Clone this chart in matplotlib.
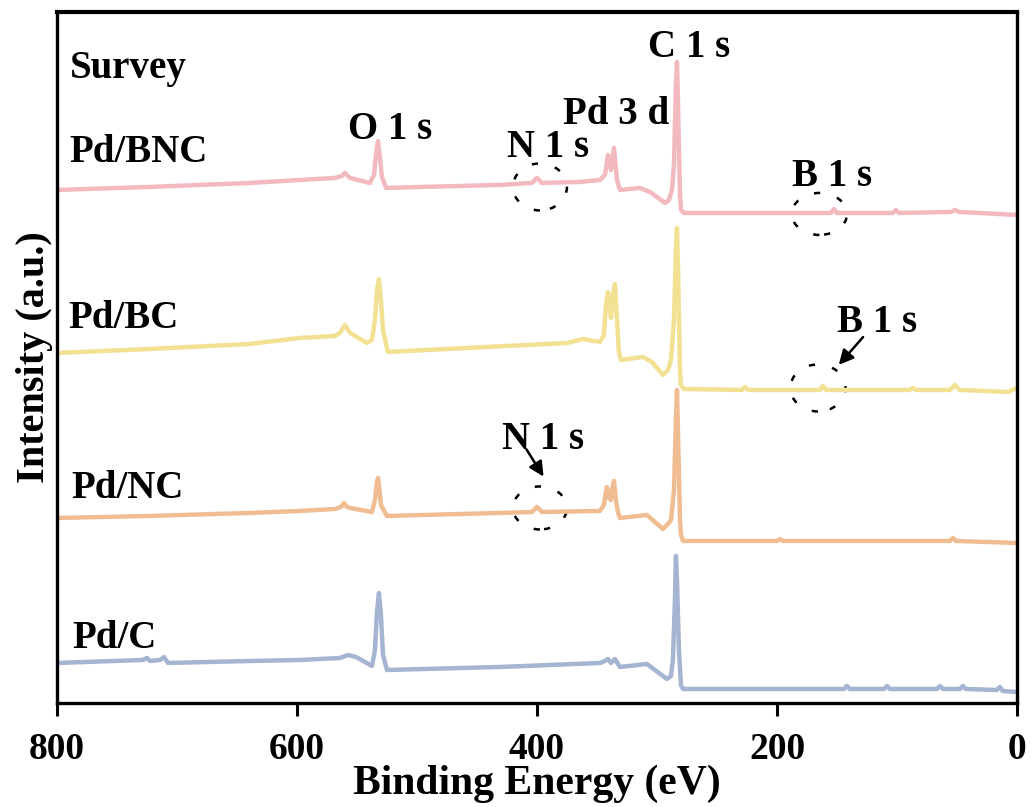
import matplotlib
matplotlib.use("Agg")
import matplotlib.pyplot as plt
from matplotlib.patches import Ellipse

plt.rcParams['font.family'] = ['Liberation Serif', 'DejaVu Serif']
plt.rcParams['font.weight'] = 'bold'

# ---------------- data (binding energy in eV, intensity in a.u.) ----------------
be_bnc = [800.0, 722.5, 639.2, 597.5, 568.3, 562.5, 560.0, 555.8, 539.2, 535.8, 534.2, 532.5, 530.8,
          529.2, 525.8, 497.5, 430.8, 404.2, 400.0, 395.8, 364.2, 347.5, 343.3, 340.8, 338.3, 335.8,
          333.3, 330.8, 314.2, 305.8, 293.3, 290.0, 287.5, 285.8, 284.2, 283.3, 282.5, 280.8, 280.0,
          277.5, 214.2, 155.0, 152.5, 150.0, 103.3, 100.8, 98.3, 55.0, 51.7, 48.3, 0.0]
int_bnc = [513, 516, 520, 523, 525, 527, 530, 525, 520, 528, 548, 562, 545,
           526, 515, 516, 518, 520, 525, 520, 521, 523, 528, 548, 533, 555,
           523, 513, 515, 511, 500, 503, 513, 538, 618, 641, 603, 508, 493,
           490, 490, 490, 494, 490, 490, 493, 490, 491, 493, 491, 488]

be_bc = [800.0, 722.5, 639.2, 597.5, 568.3, 564.2, 560.0, 555.8, 541.7, 537.5, 535.0, 533.3, 531.7,
         530.0, 528.3, 524.2, 458.3, 375.0, 361.7, 347.5, 344.2, 342.5, 340.8, 339.2, 338.3, 336.7,
         335.0, 333.3, 331.7, 330.0, 311.7, 304.2, 295.0, 290.8, 288.3, 285.8, 284.2, 283.3, 282.5,
         280.8, 280.0, 277.5, 229.2, 226.7, 224.2, 164.2, 161.7, 159.2, 89.2, 86.7, 84.2, 55.8, 51.7,
         47.5, 7.5, 0.0]
int_bc = [350, 354, 359, 365, 367, 370, 378, 370, 360, 363, 383, 413, 424,
          403, 373, 351, 355, 360, 364, 361, 368, 398, 411, 393, 385, 408,
          419, 383, 351, 343, 346, 341, 328, 333, 343, 383, 453, 475, 438,
          333, 318, 314, 313, 316, 313, 313, 317, 313, 313, 315, 313, 313, 318,
          313, 311, 315]

be_nc = [800.0, 722.5, 639.2, 597.5, 568.3, 563.3, 560.8, 558.3, 555.8, 537.5, 535.0, 533.3, 532.5,
         531.7, 530.0, 525.0, 430.8, 404.2, 400.0, 395.8, 347.5, 344.2, 342.5, 341.7, 340.0, 338.3,
         337.5, 335.8, 334.2, 332.5, 330.8, 308.3, 295.0, 290.8, 288.3, 285.8, 284.2, 283.3, 282.5,
         280.8, 280.0, 278.3, 200.0, 197.5, 195.0, 55.8, 53.3, 50.8, 0.0]
int_nc = [185, 187, 190, 192, 194, 196, 200, 196, 195, 191, 203, 221, 225,
          218, 198, 187, 190, 191, 196, 191, 192, 198, 211, 216, 205, 203,
          213, 222, 203, 191, 185, 188, 174, 179, 183, 213, 283, 313, 273,
          183, 168, 162, 162, 164, 162, 162, 165, 162, 160]

be_c = [800.0, 728.3, 725.0, 722.5, 714.2, 710.8, 707.5, 639.2, 597.5, 564.2, 557.5, 550.8, 543.3,
        537.5, 535.0, 533.3, 531.7, 530.0, 528.3, 525.0, 430.8, 347.5, 343.3, 340.8, 338.3, 335.0,
        332.5, 330.8, 308.3, 291.7, 288.3, 286.7, 285.0, 284.2, 283.3, 281.7, 280.0, 278.3, 144.2,
        141.7, 139.2, 110.8, 108.3, 105.8, 66.7, 64.2, 61.7, 47.5, 45.0, 42.5, 16.7, 14.2, 11.7, 0.0]
int_c = [40, 43, 45, 42, 43, 46, 40, 42, 43, 45, 48, 46, 41,
         37, 53, 91, 110, 88, 48, 33, 36, 40, 42, 44, 40, 44,
         39, 36, 39, 24, 27, 43, 103, 147, 123, 53, 18, 14, 14,
         17, 14, 14, 17, 14, 14, 17, 14, 14, 17, 14, 13, 16, 12, 11]

sample_names = ["Pd/BNC", "Pd/BC", "Pd/NC", "Pd/C"]
colors = ["#F2B9BE", "#F2E192", "#F0BD92", "#A4B4D1"]
xticks = [800, 600, 400, 200, 0]

# ---------------- figure ----------------
fig = plt.figure(figsize=(10.32, 8.07), dpi=100)
ax = fig.add_axes([0.0552, 0.1289, 0.9302, 0.8563])

series = [(be_bnc, int_bnc), (be_bc, int_bc), (be_nc, int_nc), (be_c, int_c)]
for (x, y), c in zip(series, colors):
    ax.plot(x, y, color=c, lw=3.2, solid_joinstyle='round', solid_capstyle='round')

ax.set_xlim(800, 0)
ax.set_ylim(0, 691)
ax.set_xticks(xticks)
ax.set_xticklabels([str(t) for t in xticks])
ax.set_yticks([])
ax.tick_params(axis='x', direction='out', length=9, width=2.2, labelsize=27, pad=12)
for s in ax.spines.values():
    s.set_linewidth(2.4)
ax.spines['top'].set_linewidth(3.0)

ax.set_xlabel("Binding Energy (eV)", fontsize=30, fontweight='bold', labelpad=-2)
ax.set_ylabel("Intensity (a.u.)", fontsize=29, fontweight='bold', labelpad=3)

fs = 28
# sample labels
ax.text(789, 625, "Survey", fontsize=fs, ha='left', va='baseline')
ax.text(790, 541, sample_names[0], fontsize=fs, ha='left', va='baseline')
ax.text(790.8, 375, sample_names[1], fontsize=fs, ha='left', va='baseline')
ax.text(788, 205, sample_names[2], fontsize=fs, ha='left', va='baseline')
ax.text(787.5, 55, sample_names[3], fontsize=fs, ha='left', va='baseline')

# peak labels
ax.text(557.5, 564, "O 1 s", fontsize=fs, ha='left', va='baseline')
ax.text(425, 546, "N 1 s", fontsize=fs, ha='left', va='baseline')
ax.text(378.3, 579, "Pd 3 d", fontsize=fs, ha='left', va='baseline')
ax.text(307.5, 646, "C 1 s", fontsize=fs, ha='left', va='baseline')
ax.text(187.5, 517, "B 1 s", fontsize=fs, ha='left', va='baseline')
ax.text(429, 254, "N 1 s", fontsize=fs, ha='left', va='baseline')
ax.text(150, 371, "B 1 s", fontsize=fs, ha='left', va='baseline')

# dashed circles
for cx, cy, w, h in [(397.5, 516, 45, 47), (164.6, 489, 46, 42),
                     (165.8, 315, 46, 47), (397.5, 195, 45, 43)]:
    ax.add_patch(Ellipse((cx, cy), w, h, fill=False, edgecolor='black',
                         lw=1.8, linestyle=(0, (2.5, 7))))

# arrows
ax.annotate("", xy=(393.3, 224), xytext=(410, 256),
            arrowprops=dict(arrowstyle='-|>', color='black', lw=1.8, mutation_scale=22))
ax.annotate("", xy=(150, 336), xytext=(126.7, 368),
            arrowprops=dict(arrowstyle='-|>', color='black', lw=1.8, mutation_scale=22))

fig.savefig("out.png", dpi=100)
